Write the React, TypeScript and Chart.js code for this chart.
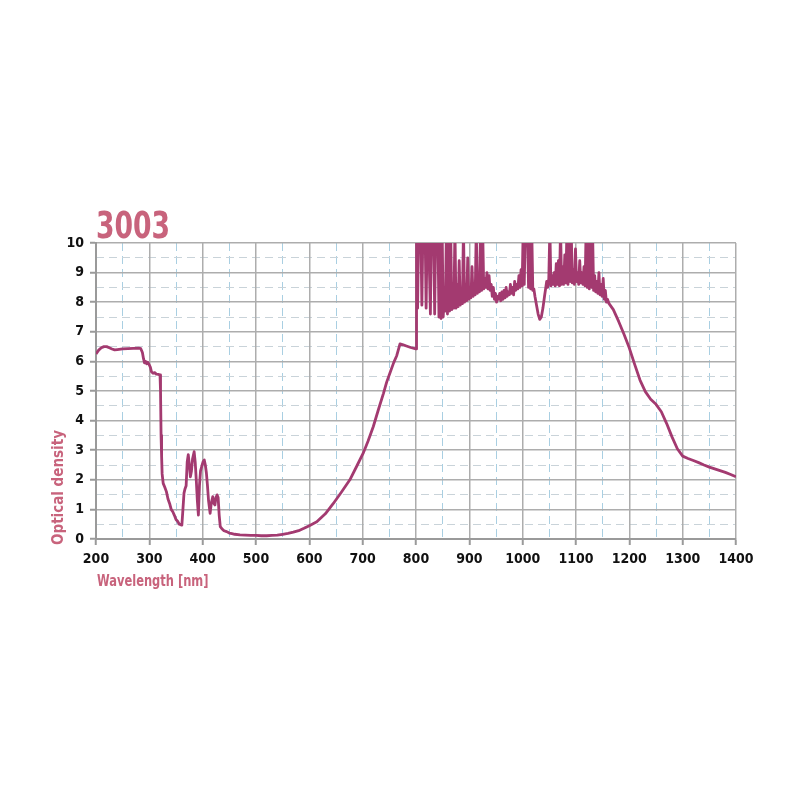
import React, { useEffect, useRef } from "react";
import { Chart, registerables } from "chart.js";
Chart.register(...registerables);

const TITLE = "3003";
const X_LABEL = "Wavelength [nm]";
const Y_LABEL = "Optical density";

const X_TICKS = [200, 300, 400, 500, 600, 700, 800, 900, 1000, 1100, 1200, 1300, 1400];
const X_MINOR = [250, 350, 450, 550, 650, 750, 850, 950, 1050, 1150, 1250, 1350];
const Y_TICKS = [0, 1, 2, 3, 4, 5, 6, 7, 8, 9, 10];
const Y_MINOR = [0.5, 1.5, 2.5, 3.5, 4.5, 5.5, 6.5, 7.5, 8.5, 9.5];

// UV region
const uvWl = [200, 205, 210, 215, 220, 225, 230, 235, 240, 250, 260, 270, 280, 284, 287, 289, 291, 293, 295, 297, 300, 302, 304, 307, 310, 313, 317, 320, 321, 322, 323, 324, 326, 329, 332, 335, 338, 341, 344, 347, 350, 353, 356, 359, 361, 363, 365, 367, 369, 371, 373, 375, 377, 379, 381, 384, 386, 388, 390, 392, 394, 396, 399, 401, 403, 405, 407, 409, 411, 414, 416, 419, 421, 423, 425, 427, 429, 431, 433];
const uvOd = [6.25, 6.38, 6.46, 6.5, 6.5, 6.46, 6.42, 6.39, 6.4, 6.42, 6.43, 6.44, 6.45, 6.43, 6.3, 6.1, 5.95, 6.0, 5.92, 5.97, 5.88, 5.8, 5.65, 5.6, 5.62, 5.57, 5.56, 5.54, 5.0, 3.5, 2.8, 2.2, 1.88, 1.75, 1.6, 1.35, 1.2, 1.0, 0.92, 0.8, 0.66, 0.6, 0.5, 0.48, 0.47, 1.0, 1.55, 1.7, 1.8, 2.6, 2.85, 2.5, 2.1, 2.3, 2.7, 2.95, 2.6, 2.0, 1.3, 0.81, 1.8, 2.3, 2.5, 2.62, 2.67, 2.5, 2.23, 1.8, 1.3, 0.87, 1.2, 1.43, 1.2, 1.15, 1.4, 1.49, 1.4, 0.8, 0.42];

// Visible region
const visWl = [436, 440, 445, 450, 455, 460, 470, 480, 490, 500, 510, 520, 530, 540, 550, 560, 570, 580, 590, 600, 614, 630, 645, 660, 676, 690, 701, 710, 720, 730, 739, 745, 751, 758, 764, 767, 770, 776, 782, 790, 800];
const visOd = [0.35, 0.28, 0.25, 0.2, 0.18, 0.16, 0.14, 0.13, 0.12, 0.12, 0.11, 0.11, 0.12, 0.13, 0.16, 0.19, 0.23, 0.28, 0.36, 0.45, 0.58, 0.85, 1.2, 1.58, 2.0, 2.5, 2.9, 3.3, 3.8, 4.4, 4.92, 5.3, 5.6, 5.95, 6.2, 6.4, 6.59, 6.56, 6.52, 6.47, 6.42];

// Near-IR noisy region
const irWl = [801, 803, 805, 807, 809, 811, 813, 815, 817, 819, 821, 823, 825, 827, 829, 831, 833, 835, 837, 839, 841, 843, 845, 847, 849, 851, 853, 855, 857, 859, 861, 863, 865, 867, 869, 871, 873, 875, 877, 879, 881, 883, 885, 887, 889, 891, 893, 895, 897, 899, 901, 903, 905, 907, 909, 911, 913, 915, 917, 919, 921, 923, 925, 927, 929, 931, 933, 935, 937, 939, 941, 943, 945, 947, 949, 951, 953, 955, 957, 959, 961, 963, 965, 967, 969, 971, 973, 975, 977, 979, 981, 983, 985, 987, 989, 991, 993, 995, 997, 999, 1001, 1003, 1005, 1007, 1009, 1011, 1013, 1015, 1017, 1019, 1021, 1023, 1026, 1029, 1032, 1035, 1038, 1041, 1043, 1045, 1047, 1049, 1051, 1053, 1055, 1057, 1059, 1061, 1063, 1065, 1067, 1069, 1071, 1073, 1075, 1077, 1079, 1081, 1083, 1085, 1087, 1089, 1091, 1093, 1095, 1097, 1099, 1101, 1103, 1105, 1107, 1109, 1111, 1113, 1115, 1117, 1119, 1121, 1123, 1125, 1127, 1129, 1131, 1133, 1135, 1137, 1139, 1141, 1143, 1145, 1147, 1149, 1151, 1153, 1155, 1157, 1159, 1162];
const irOd = [10.5, 7.8, 10.5, 10.5, 10.5, 7.9, 10.5, 10.5, 10.5, 7.8, 10.5, 10.5, 9.2, 7.6, 10.5, 10.5, 10.5, 7.6, 10.5, 10.5, 10.5, 7.5, 10.5, 7.45, 10.5, 7.5, 8.2, 7.7, 10.5, 7.6, 10.5, 7.7, 10.5, 7.75, 8.3, 7.8, 10.5, 7.8, 8.6, 7.85, 9.4, 7.9, 8.4, 7.95, 10.5, 8.0, 8.6, 8.05, 9.5, 8.1, 8.5, 8.15, 9.2, 8.2, 8.6, 8.25, 10.5, 8.3, 8.7, 8.35, 10.5, 8.4, 10.5, 8.45, 8.8, 8.5, 9.0, 8.45, 8.9, 8.4, 8.6, 8.2, 8.5, 8.1, 8.3, 8.0, 8.2, 8.1, 8.3, 8.05, 8.35, 8.1, 8.4, 8.15, 8.5, 8.2, 8.35, 8.25, 8.6, 8.3, 8.5, 8.25, 8.7, 8.4, 8.6, 8.45, 8.9, 8.5, 9.1, 8.55, 10.5, 8.6, 10.5, 10.5, 10.5, 8.5, 10.5, 8.45, 10.5, 8.4, 8.45, 8.2, 7.9, 7.6, 7.42, 7.5, 7.8, 8.2, 8.45, 8.7, 8.5, 8.8, 10.5, 8.55, 8.9, 8.6, 9.0, 8.55, 9.3, 8.6, 9.4, 8.55, 10.5, 8.6, 9.2, 8.6, 9.6, 8.65, 10.5, 8.6, 10.5, 8.7, 10.5, 8.65, 9.1, 8.6, 9.8, 8.7, 9.0, 8.6, 9.4, 8.65, 9.0, 8.6, 9.2, 8.55, 10.5, 8.5, 10.5, 8.45, 10.5, 8.5, 10.5, 8.4, 8.9, 8.35, 8.7, 8.3, 9.0, 8.25, 8.6, 8.2, 8.8, 8.1, 8.4, 8.0, 8.1, 7.95];

// Tail
const tailWl = [1170, 1180, 1190, 1200, 1210, 1220, 1230, 1240, 1250, 1260, 1270, 1280, 1290, 1300, 1310, 1320, 1330, 1340, 1350, 1360, 1370, 1380, 1390, 1400];
const tailOd = [7.75, 7.35, 6.92, 6.45, 5.9, 5.37, 4.98, 4.72, 4.55, 4.3, 3.9, 3.45, 3.05, 2.8, 2.72, 2.65, 2.58, 2.5, 2.43, 2.37, 2.31, 2.25, 2.18, 2.1];

const FONT = "'Liberation Sans Narrow', 'DejaVu Sans Condensed', 'Roboto', sans-serif";
const PINK = "#c8637c";
const LINE = "#a33a70";

export default function App() {
  const ref = useRef<HTMLCanvasElement>(null);
  useEffect(() => {
    const wl = [...uvWl, ...visWl, ...irWl, ...tailWl];
    const od = [...uvOd, ...visOd, ...irOd, ...tailOd];
    const data = wl.map((x, i) => ({ x, y: od[i] }));

    const textPlugin = {
      id: "texts",
      afterDraw(chart: any) {
        const ctx = chart.ctx;
        const area = chart.chartArea;
        ctx.save();
        ctx.fillStyle = PINK;
        ctx.textAlign = "left";
        ctx.textBaseline = "alphabetic";
        ctx.save();
        ctx.translate(area.left, area.top - 5);
        ctx.scale(0.8, 1);
        ctx.font = `bold 37px ${FONT}`;
        ctx.fillText(TITLE, 0, 0);
        ctx.restore();
        ctx.save();
        ctx.translate(area.left + 1, 586);
        ctx.scale(0.85, 1);
        ctx.font = `bold 15px ${FONT}`;
        ctx.fillText(X_LABEL, 0, 0);
        ctx.restore();
        ctx.font = `bold 15px ${FONT}`;
        ctx.translate(63, area.bottom + 6);
        ctx.rotate(-Math.PI / 2);
        ctx.fillText(Y_LABEL, 0, 0);
        ctx.restore();
      },
    };

    const tickFont = { family: FONT, size: 14, weight: "bold" as const };

    const chart = new Chart(ref.current!, {
      type: "line",
      data: {
        datasets: [
          {
            data,
            borderColor: LINE,
            borderWidth: 2.8,
            pointRadius: 0,
            tension: 0,
            borderJoinStyle: "round",
            fill: false,
          },
        ],
      },
      options: {
        animation: false,
        responsive: false,
        events: [],
        layout: { padding: { left: 0, right: 64, top: 243, bottom: 0 } },
        plugins: { legend: { display: false }, tooltip: { enabled: false } },
        scales: {
          x2: {
            type: "linear",
            min: 200,
            max: 1400,
            position: "bottom",
            afterFit: (s: any) => { s.height = 0; },
            afterBuildTicks: (s: any) => { s.ticks = X_MINOR.map((v) => ({ value: v })); },
            ticks: { display: false },
            grid: { color: "#a9cfe2", lineWidth: 1, drawTicks: false },
            border: { display: false, dash: [8, 5] },
          },
          y2: {
            type: "linear",
            min: 0,
            max: 10,
            position: "left",
            afterFit: (s: any) => { s.width = 0; },
            afterBuildTicks: (s: any) => { s.ticks = Y_MINOR.map((v) => ({ value: v })); },
            ticks: { display: false },
            grid: { color: "#c9d3d9", lineWidth: 1, drawTicks: false },
            border: { display: false, dash: [8, 5] },
          },
          x: {
            type: "linear",
            min: 200,
            max: 1400,
            position: "bottom",
            afterFit: (s: any) => { s.height = 261; },
            afterBuildTicks: (s: any) => { s.ticks = X_TICKS.map((v) => ({ value: v })); },
            ticks: {
              font: tickFont,
              color: "#111",
              padding: 6,
              maxRotation: 0,
              autoSkip: false,
              callback: (v: any) => String(v),
            },
            grid: { color: "#adadad", lineWidth: 1.5, tickLength: 6, tickColor: "#9a9a9a", tickWidth: 2 },
            border: { color: "#9a9a9a", width: 2 },
          },
          y: {
            type: "linear",
            min: 0,
            max: 10,
            position: "left",
            afterFit: (s: any) => { s.width = 96; },
            afterBuildTicks: (s: any) => { s.ticks = Y_TICKS.map((v) => ({ value: v })); },
            ticks: {
              font: tickFont,
              color: "#111",
              padding: 6,
              autoSkip: false,
              callback: (v: any) => String(v),
            },
            grid: { color: "#adadad", lineWidth: 1.5, tickLength: 6, tickColor: "#9a9a9a", tickWidth: 2 },
            border: { color: "#9a9a9a", width: 2 },
          },
        },
      },
      plugins: [textPlugin],
    });
    return () => chart.destroy();
  }, []);

  return (
    <div style={{ position: "fixed", left: 0, top: 0, width: 800, height: 800, background: "#fff" }}>
      <canvas ref={ref} width={800} height={800} style={{ display: "block", width: 800, height: 800 }} />
    </div>
  );
}
